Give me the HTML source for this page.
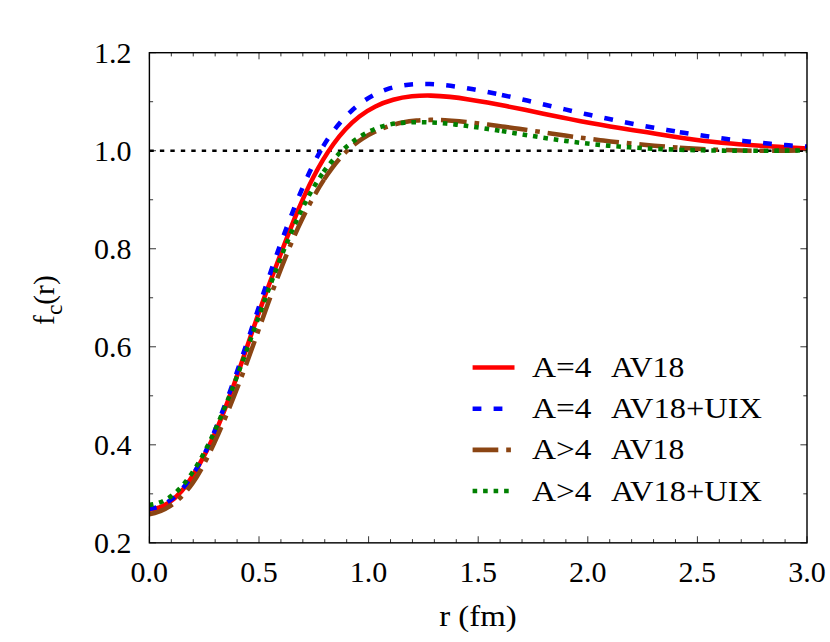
<!DOCTYPE html>
<html lang="en"><head><meta charset="utf-8"><title>f_c(r) correlation functions</title>
<style>
html,body{margin:0;padding:0;background:#fff}
body{width:830px;height:642px;overflow:hidden;font-family:"Liberation Serif",serif}
svg{display:block}
.tl text{font-family:"Liberation Serif",serif;fill:#000}
</style></head><body>
<svg width="830" height="642" viewBox="0 0 830 642">
<defs><clipPath id="ax"><rect x="149.40" y="52.70" width="657.60" height="490.15"/></clipPath></defs>
<rect width="830" height="642" fill="#fff"/>
<g clip-path="url(#ax)" fill="none">
<path d="M149.40 150.73H807.00" stroke="#000" stroke-width="2.45" stroke-dasharray="4.4 6.07"/>
<g stroke-width="4.55">
<path d="M149.40 509.83C156.31 508.96 162.28 506.69 167.55 503.45C172.82 500.21 177.39 496.00 181.49 491.24C185.60 486.48 189.24 481.17 192.66 475.75C196.07 470.32 199.27 464.80 202.29 459.20C205.31 453.60 208.16 447.93 210.86 442.19C213.56 436.45 216.11 430.65 218.56 424.81C221.01 418.97 223.35 413.08 225.62 407.17C227.88 401.25 230.08 395.31 232.24 389.36C234.39 383.40 236.50 377.43 238.58 371.45C240.66 365.46 242.72 359.47 244.77 353.48C246.82 347.48 248.87 341.48 250.92 335.49C252.98 329.50 255.05 323.51 257.15 317.53C259.25 311.55 261.39 305.58 263.56 299.62C265.74 293.67 267.94 287.72 270.16 281.79C272.39 275.85 274.63 269.92 276.88 264.00C279.12 258.08 281.37 252.16 283.64 246.25C285.90 240.35 288.20 234.45 290.54 228.57C292.88 222.70 295.26 216.84 297.73 211.00C300.19 205.17 302.73 199.36 305.38 193.59C308.04 187.83 310.80 182.12 313.73 176.49C316.65 170.86 319.73 165.32 323.01 159.89C326.29 154.46 329.78 149.14 333.51 143.99C337.24 138.84 341.22 133.88 345.51 129.25C349.80 124.61 354.41 120.31 359.39 116.47C364.37 112.63 369.75 109.27 375.44 106.47C381.12 103.67 387.10 101.43 393.22 99.76C399.35 98.09 405.61 97.00 411.91 96.36C418.21 95.71 424.54 95.51 430.86 95.63C437.18 95.76 443.50 96.21 449.81 96.88C456.12 97.55 462.42 98.42 468.70 99.40C474.98 100.38 481.24 101.44 487.48 102.56C493.73 103.68 499.96 104.86 506.18 106.08C512.40 107.29 518.61 108.55 524.81 109.82C531.02 111.10 537.22 112.39 543.42 113.67C549.62 114.96 555.82 116.24 562.02 117.50C568.23 118.76 574.44 119.99 580.67 121.17C586.89 122.35 593.13 123.48 599.37 124.57C605.62 125.66 611.87 126.71 618.13 127.73C624.39 128.75 630.66 129.75 636.93 130.74C643.19 131.73 649.46 132.71 655.72 133.71C661.98 134.70 668.24 135.70 674.50 136.67C680.77 137.64 687.03 138.57 693.31 139.43C699.58 140.29 705.87 141.06 712.17 141.75C718.47 142.43 724.77 143.03 731.09 143.57C737.41 144.11 743.73 144.59 750.06 145.03C756.39 145.48 762.72 145.88 769.05 146.27C775.38 146.65 781.71 147.02 788.04 147.40C794.36 147.78 800.69 148.17 807.00 148.58" stroke="#ff0000"/>
<g stroke="#0000ff" stroke-dasharray="8.8 12.2"><path d="M149.40 508.90C159.96 507.41 168.37 502.51 175.48 496.02C182.58 489.53 188.43 481.62 193.63 473.43C198.84 465.23 203.33 456.54 207.44 447.62C211.55 438.70 215.30 429.57 218.94 420.44C222.58 411.30 226.07 402.13 229.45 392.92C232.84 383.71 236.11 374.48 239.31 365.23C242.51 355.98 245.64 346.71 248.74 337.45C251.83 328.18 254.90 318.92 257.97 309.67C261.05 300.42 264.13 291.19 267.26 281.97C270.39 272.75 273.56 263.55 276.82 254.36C280.07 245.18 283.42 236.01 286.88 226.86C290.34 217.71 293.93 208.58 297.68 199.47C301.42 190.37 305.31 181.24 309.50 172.29C313.69 163.34 318.21 154.58 323.25 146.22" stroke-dashoffset="1.5"/><path d="M323.25 146.22C325.75 142.07 328.38 138.02 331.17 134.10C333.96 130.17 336.90 126.38 340.02 122.74C343.14 119.10 346.44 115.61 349.95 112.31C353.45 109.01 357.17 105.88 361.09 102.99C365.00 100.11 369.10 97.47 373.37 95.17C377.64 92.86 382.08 90.88 386.65 89.31C391.23 87.74 395.95 86.59 400.73 85.77C405.51 84.95 410.35 84.45 415.19 84.18C420.02 83.91 424.87 83.89 429.72 84.06C434.58 84.23 439.43 84.58 444.28 85.08C449.13 85.58 453.98 86.22 458.81 86.94C463.65 87.67 468.47 88.48 473.27 89.33C478.07 90.18 482.86 91.08 487.63 92.03C492.40 92.97 497.15 93.95 501.90 94.96M501.90 94.96C506.14 95.86 510.36 96.78 514.58 97.72C518.80 98.67 523.02 99.62 527.23 100.59C531.44 101.56 535.65 102.54 539.86 103.52C544.07 104.50 548.27 105.49 552.48 106.47C556.69 107.45 560.90 108.43 565.11 109.39C569.33 110.36 573.54 111.32 577.76 112.26C581.99 113.20 586.21 114.13 590.44 115.05C594.67 115.97 598.90 116.88 603.14 117.77C607.38 118.66 611.62 119.53 615.87 120.40C620.11 121.26 624.36 122.10 628.61 122.94C632.87 123.77 637.12 124.59 641.38 125.39C645.64 126.19 649.90 126.97 654.17 127.74C658.43 128.50 662.70 129.25 666.97 129.99C671.25 130.72 675.52 131.43 679.80 132.13M679.80 132.13C682.81 132.62 685.83 133.10 688.84 133.57C691.86 134.04 694.87 134.51 697.89 134.96C700.91 135.41 703.93 135.85 706.95 136.29C709.97 136.72 712.99 137.14 716.01 137.55C719.03 137.97 722.06 138.37 725.08 138.76C728.11 139.15 731.13 139.53 734.16 139.90C737.19 140.28 740.21 140.63 743.24 140.98C746.27 141.33 749.30 141.67 752.33 142.00C755.36 142.32 758.40 142.64 761.43 142.94C764.46 143.24 767.50 143.54 770.53 143.82C773.57 144.10 776.60 144.36 779.64 144.62C782.68 144.88 785.71 145.12 788.75 145.35C791.79 145.58 794.83 145.80 797.87 146.01C800.91 146.21 803.95 146.41 806.99 146.59"/></g>
<g stroke="#8b4513" stroke-dasharray="25.7 7.9 4.7 7.9"><path d="M149.40 514.19C159.13 512.72 167.36 508.47 174.46 502.84C181.56 497.22 187.52 490.36 192.74 482.89C197.97 475.42 202.46 467.29 206.61 458.96C210.76 450.64 214.63 442.17 218.38 433.73C222.13 425.28 225.72 416.82 229.19 408.32C232.66 399.83 236.01 391.31 239.28 382.76C242.55 374.21 245.74 365.63 248.87 357.02C252.01 348.42 255.10 339.77 258.18 331.11C261.26 322.44 264.34 313.76 267.46 305.09C270.57 296.41 273.73 287.75 276.98 279.13C280.23 270.51 283.56 261.93 287.04 253.42C290.51 244.91 294.11 236.47 297.91 228.13C301.71 219.80 305.70 211.56 310.01 203.46C314.32 195.37 318.94 187.40 324.00 179.62" stroke-dashoffset="0.4"/><path d="M324.00 179.62C326.62 175.60 329.35 171.64 332.24 167.81C335.12 163.98 338.15 160.27 341.36 156.76C344.56 153.24 347.94 149.91 351.53 146.83C355.12 143.74 358.92 140.92 362.90 138.36C366.89 135.81 371.05 133.52 375.36 131.50C379.66 129.48 384.09 127.73 388.62 126.25C393.14 124.76 397.76 123.55 402.41 122.60C407.07 121.66 411.76 120.99 416.47 120.55C421.19 120.12 425.92 119.91 430.67 119.88C435.42 119.84 440.18 119.98 444.95 120.24C449.72 120.51 454.49 120.89 459.25 121.33C464.01 121.78 468.77 122.28 473.52 122.82C478.26 123.35 483.00 123.92 487.73 124.52C492.46 125.12 497.18 125.74 501.90 126.39M501.90 126.39C506.13 126.97 510.36 127.57 514.58 128.17C518.80 128.78 523.03 129.39 527.24 130.01C531.46 130.63 535.68 131.26 539.90 131.88C544.11 132.51 548.33 133.13 552.55 133.75C556.77 134.36 560.99 134.97 565.21 135.57C569.43 136.17 573.65 136.75 577.88 137.32C582.11 137.89 586.34 138.44 590.57 138.97C594.80 139.51 599.04 140.03 603.28 140.53C607.51 141.03 611.76 141.52 616.00 141.98C620.24 142.45 624.49 142.90 628.74 143.34C632.98 143.77 637.23 144.19 641.49 144.59C645.74 144.99 649.99 145.37 654.25 145.73C658.50 146.10 662.76 146.44 667.02 146.77C671.28 147.09 675.54 147.40 679.80 147.69M679.80 147.69C682.82 147.89 685.85 148.09 688.88 148.28C691.90 148.46 694.93 148.64 697.95 148.80C700.98 148.97 704.01 149.13 707.04 149.27C710.06 149.42 713.09 149.56 716.12 149.68C719.15 149.81 722.18 149.93 725.21 150.03C728.23 150.14 731.26 150.23 734.29 150.32C737.32 150.41 740.35 150.48 743.38 150.55C746.41 150.61 749.44 150.67 752.47 150.71C755.50 150.75 758.53 150.79 761.56 150.81C764.59 150.83 767.62 150.84 770.65 150.84C773.67 150.84 776.70 150.83 779.73 150.81C782.76 150.79 785.79 150.76 788.82 150.72C791.84 150.67 794.87 150.62 797.90 150.55C800.93 150.49 803.95 150.41 806.98 150.32"/></g>
<g stroke="#008000" stroke-dasharray="4.6 5.9"><path d="M149.40 504.99C159.05 503.84 167.09 499.71 174.02 493.95C180.94 488.19 186.75 480.81 191.93 473.17C197.10 465.52 201.65 457.59 205.81 449.47C209.98 441.36 213.77 433.06 217.43 424.69C221.10 416.32 224.62 407.88 228.03 399.37C231.45 390.87 234.75 382.32 237.99 373.73C241.22 365.15 244.38 356.54 247.50 347.93C250.62 339.32 253.70 330.70 256.78 322.11C259.86 313.52 262.94 304.94 266.07 296.39C269.20 287.84 272.38 279.31 275.65 270.80C278.92 262.29 282.29 253.81 285.80 245.35C289.31 236.90 292.97 228.47 296.81 220.07C300.66 211.68 304.71 203.33 309.12 195.23C313.53 187.14 318.30 179.30 323.60 171.92" stroke-dashoffset="0.6"/><path d="M323.60 171.92C326.31 168.15 329.16 164.50 332.16 161.00C335.17 157.50 338.33 154.14 341.68 150.96C345.03 147.78 348.55 144.78 352.28 141.98C356.02 139.18 359.96 136.57 364.07 134.25C368.17 131.93 372.45 129.89 376.84 128.23C381.23 126.57 385.75 125.31 390.33 124.41C394.91 123.51 399.56 122.95 404.24 122.61C408.92 122.27 413.61 122.15 418.29 122.16C422.97 122.16 427.64 122.30 432.31 122.55C436.97 122.80 441.63 123.16 446.29 123.60C450.94 124.03 455.59 124.55 460.23 125.12C464.87 125.68 469.51 126.30 474.14 126.94C478.77 127.59 483.40 128.27 488.03 128.97C492.65 129.67 497.28 130.39 501.90 131.12M501.90 131.12C506.11 131.79 510.33 132.47 514.54 133.15C518.75 133.83 522.96 134.51 527.18 135.19C531.39 135.86 535.60 136.53 539.82 137.19C544.03 137.84 548.25 138.48 552.47 139.10C556.69 139.72 560.91 140.32 565.13 140.88C569.36 141.45 573.58 141.99 577.81 142.49C582.04 143.00 586.28 143.47 590.51 143.92C594.75 144.37 598.99 144.79 603.23 145.18C607.47 145.58 611.72 145.94 615.96 146.29C620.21 146.63 624.46 146.95 628.71 147.24C632.96 147.54 637.21 147.81 641.47 148.06C645.72 148.31 649.98 148.54 654.24 148.74C658.50 148.95 662.75 149.14 667.02 149.31C671.28 149.48 675.54 149.63 679.80 149.77M679.80 149.77C682.83 149.87 685.86 149.95 688.88 150.03C691.91 150.11 694.94 150.18 697.97 150.25C701.00 150.31 704.03 150.37 707.06 150.42C710.09 150.47 713.12 150.52 716.15 150.55C719.18 150.59 722.21 150.62 725.24 150.65C728.27 150.67 731.30 150.69 734.33 150.71C737.36 150.72 740.39 150.74 743.42 150.74C746.45 150.75 749.48 150.75 752.51 150.75C755.54 150.74 758.56 150.74 761.59 150.73C764.62 150.72 767.65 150.71 770.68 150.69C773.70 150.68 776.73 150.66 779.76 150.64C782.78 150.62 785.81 150.59 788.83 150.57C791.86 150.55 794.88 150.52 797.91 150.50C800.93 150.47 803.95 150.44 806.98 150.41"/></g>
</g></g>
<g fill="none" stroke-width="4.55"><path d="M472.60 367.45H514.50" stroke="#ff0000"/><path d="M472.60 408.65H514.50" stroke="#0000ff" stroke-dasharray="8.8 12.2"/><path d="M472.60 449.85H514.50" stroke="#8b4513" stroke-dasharray="25.7 7.9 4.7 7.9"/><path d="M472.60 491.05H514.50" stroke="#008000" stroke-dasharray="4.6 5.9"/></g>
<path d="M149.40 542.85v-6.60M149.40 52.70v6.60M171.32 542.85v-3.70M171.32 52.70v3.70M193.24 542.85v-3.70M193.24 52.70v3.70M215.16 542.85v-3.70M215.16 52.70v3.70M237.08 542.85v-3.70M237.08 52.70v3.70M259.00 542.85v-6.60M259.00 52.70v6.60M280.92 542.85v-3.70M280.92 52.70v3.70M302.84 542.85v-3.70M302.84 52.70v3.70M324.76 542.85v-3.70M324.76 52.70v3.70M346.68 542.85v-3.70M346.68 52.70v3.70M368.60 542.85v-6.60M368.60 52.70v6.60M390.52 542.85v-3.70M390.52 52.70v3.70M412.44 542.85v-3.70M412.44 52.70v3.70M434.36 542.85v-3.70M434.36 52.70v3.70M456.28 542.85v-3.70M456.28 52.70v3.70M478.20 542.85v-6.60M478.20 52.70v6.60M500.12 542.85v-3.70M500.12 52.70v3.70M522.04 542.85v-3.70M522.04 52.70v3.70M543.96 542.85v-3.70M543.96 52.70v3.70M565.88 542.85v-3.70M565.88 52.70v3.70M587.80 542.85v-6.60M587.80 52.70v6.60M609.72 542.85v-3.70M609.72 52.70v3.70M631.64 542.85v-3.70M631.64 52.70v3.70M653.56 542.85v-3.70M653.56 52.70v3.70M675.48 542.85v-3.70M675.48 52.70v3.70M697.40 542.85v-6.60M697.40 52.70v6.60M719.32 542.85v-3.70M719.32 52.70v3.70M741.24 542.85v-3.70M741.24 52.70v3.70M763.16 542.85v-3.70M763.16 52.70v3.70M785.08 542.85v-3.70M785.08 52.70v3.70M807.00 542.85v-6.60M807.00 52.70v6.60M149.40 542.85h6.60M807.00 542.85h-6.60M149.40 493.83h3.70M807.00 493.83h-3.70M149.40 444.82h6.60M807.00 444.82h-6.60M149.40 395.81h3.70M807.00 395.81h-3.70M149.40 346.79h6.60M807.00 346.79h-6.60M149.40 297.78h3.70M807.00 297.78h-3.70M149.40 248.76h6.60M807.00 248.76h-6.60M149.40 199.75h3.70M807.00 199.75h-3.70M149.40 150.73h6.60M807.00 150.73h-6.60M149.40 101.71h3.70M807.00 101.71h-3.70M149.40 52.70h6.60M807.00 52.70h-6.60" stroke="#000" stroke-width="0.8" fill="none"/>
<rect x="149.40" y="52.70" width="657.60" height="490.15" fill="none" stroke="#000" stroke-width="1.42"/>
<g class="tl"><text x="130.6" y="582.0" font-size="29.4" textLength="37.5" lengthAdjust="spacingAndGlyphs">0.0</text><text x="240.2" y="582.0" font-size="29.4" textLength="37.5" lengthAdjust="spacingAndGlyphs">0.5</text><text x="349.8" y="582.0" font-size="29.4" textLength="37.5" lengthAdjust="spacingAndGlyphs">1.0</text><text x="459.4" y="582.0" font-size="29.4" textLength="37.5" lengthAdjust="spacingAndGlyphs">1.5</text><text x="569.0" y="582.0" font-size="29.4" textLength="37.5" lengthAdjust="spacingAndGlyphs">2.0</text><text x="678.6" y="582.0" font-size="29.4" textLength="37.5" lengthAdjust="spacingAndGlyphs">2.5</text><text x="788.2" y="582.0" font-size="29.4" textLength="37.5" lengthAdjust="spacingAndGlyphs">3.0</text><text x="94.0" y="552.9" font-size="29.4" textLength="37.5" lengthAdjust="spacingAndGlyphs">0.2</text><text x="94.0" y="454.8" font-size="29.4" textLength="37.5" lengthAdjust="spacingAndGlyphs">0.4</text><text x="94.0" y="356.8" font-size="29.4" textLength="37.5" lengthAdjust="spacingAndGlyphs">0.6</text><text x="94.0" y="258.8" font-size="29.4" textLength="37.5" lengthAdjust="spacingAndGlyphs">0.8</text><text x="94.0" y="160.7" font-size="29.4" textLength="37.5" lengthAdjust="spacingAndGlyphs">1.0</text><text x="94.0" y="62.7" font-size="29.4" textLength="37.5" lengthAdjust="spacingAndGlyphs">1.2</text><text x="439.2" y="626.0" font-size="29.4" textLength="77.5" lengthAdjust="spacingAndGlyphs">r (fm)</text><text x="531.9" y="377.0" font-size="29.4" textLength="59.5" lengthAdjust="spacingAndGlyphs">A=4</text><text x="610.9" y="377.0" font-size="29.4" textLength="73.4" lengthAdjust="spacingAndGlyphs">AV18</text><text x="531.9" y="418.2" font-size="29.4" textLength="59.5" lengthAdjust="spacingAndGlyphs">A=4</text><text x="610.9" y="418.2" font-size="29.4" textLength="151" lengthAdjust="spacingAndGlyphs">AV18+UIX</text><text x="531.9" y="459.4" font-size="29.4" textLength="59.5" lengthAdjust="spacingAndGlyphs">A&gt;4</text><text x="610.9" y="459.4" font-size="29.4" textLength="73.4" lengthAdjust="spacingAndGlyphs">AV18</text><text x="531.9" y="500.6" font-size="29.4" textLength="59.5" lengthAdjust="spacingAndGlyphs">A&gt;4</text><text x="610.9" y="500.6" font-size="29.4" textLength="151" lengthAdjust="spacingAndGlyphs">AV18+UIX</text><text transform="translate(53.8 324.9) rotate(-90)" font-size="29.4">f<tspan dy="8" font-size="23.5">c</tspan><tspan dy="-8">(r)</tspan></text></g>
</svg>
</body></html>
